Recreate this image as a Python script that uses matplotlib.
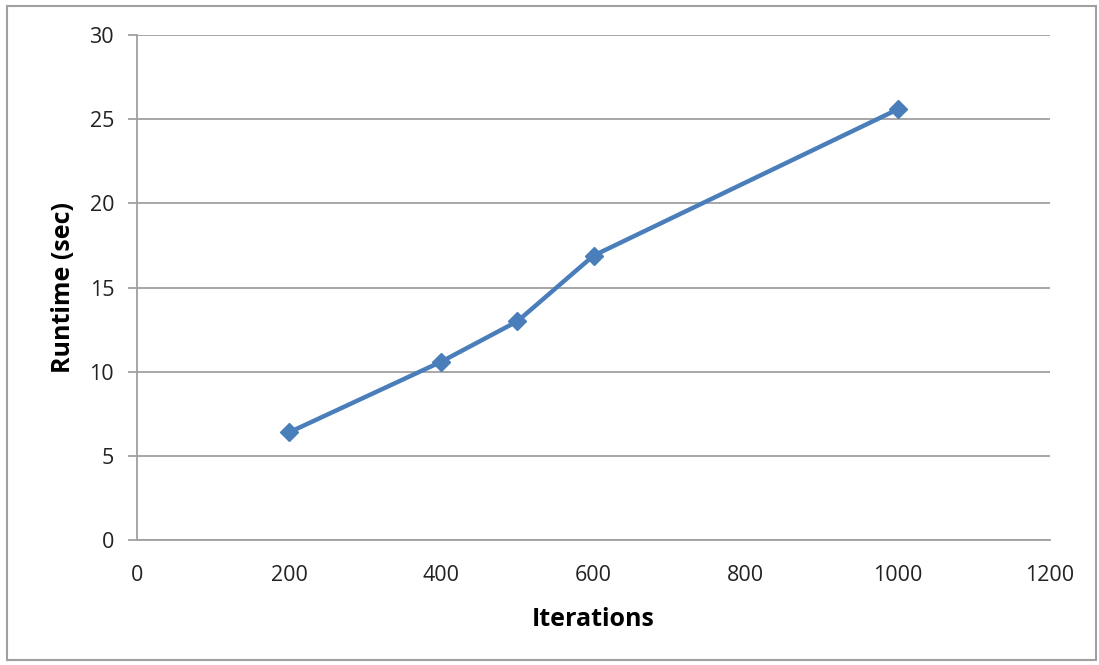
import matplotlib
matplotlib.use('Agg')
import matplotlib.pyplot as plt
from matplotlib.patches import Rectangle

iterations = [200, 400, 500, 600, 1000]
runtime = [6.4, 10.6, 13.0, 16.9, 25.6]

x_ticks = [0, 200, 400, 600, 800, 1000, 1200]
y_ticks = [0, 5, 10, 15, 20, 25, 30]

plt.rcParams['font.family'] = ['Open Sans', 'DejaVu Sans']

fig = plt.figure(figsize=(10.99, 6.65), dpi=100)
ax = fig.add_axes([0.1247, 0.188, 0.8307, 0.759])

# outer chart border
fig.patches.append(Rectangle((0.006, 0.008), 0.991, 0.983, transform=fig.transFigure,
                             fill=False, edgecolor='#a0a0a0', linewidth=1.5))

ax.plot(iterations, runtime, color='#4a7ebb', linewidth=3.2, marker='D',
        markersize=9, zorder=3)

ax.set_xlim(0, 1200)
ax.set_ylim(0, 30)
ax.set_xticks(x_ticks)
ax.set_yticks(y_ticks)
ax.grid(axis='y', color='#a0a0a0', linewidth=1.3)
ax.set_axisbelow(True)

for s in ['top', 'right']:
    ax.spines[s].set_visible(False)
for s in ['left', 'bottom']:
    ax.spines[s].set_color('#a0a0a0')
    ax.spines[s].set_linewidth(1.3)

ax.tick_params(axis='y', length=6.5, width=1.3, color='#a0a0a0', labelsize=15.5,
               pad=10, labelcolor='#222222')
ax.tick_params(axis='x', length=0, labelsize=15.5, pad=18, labelcolor='#222222')

ax.set_xlabel('Iterations', fontsize=18, fontweight='bold', labelpad=15)
ax.set_ylabel('Runtime (sec)', fontsize=18, fontweight='bold', labelpad=10)

plt.savefig('out.png', dpi=100)
